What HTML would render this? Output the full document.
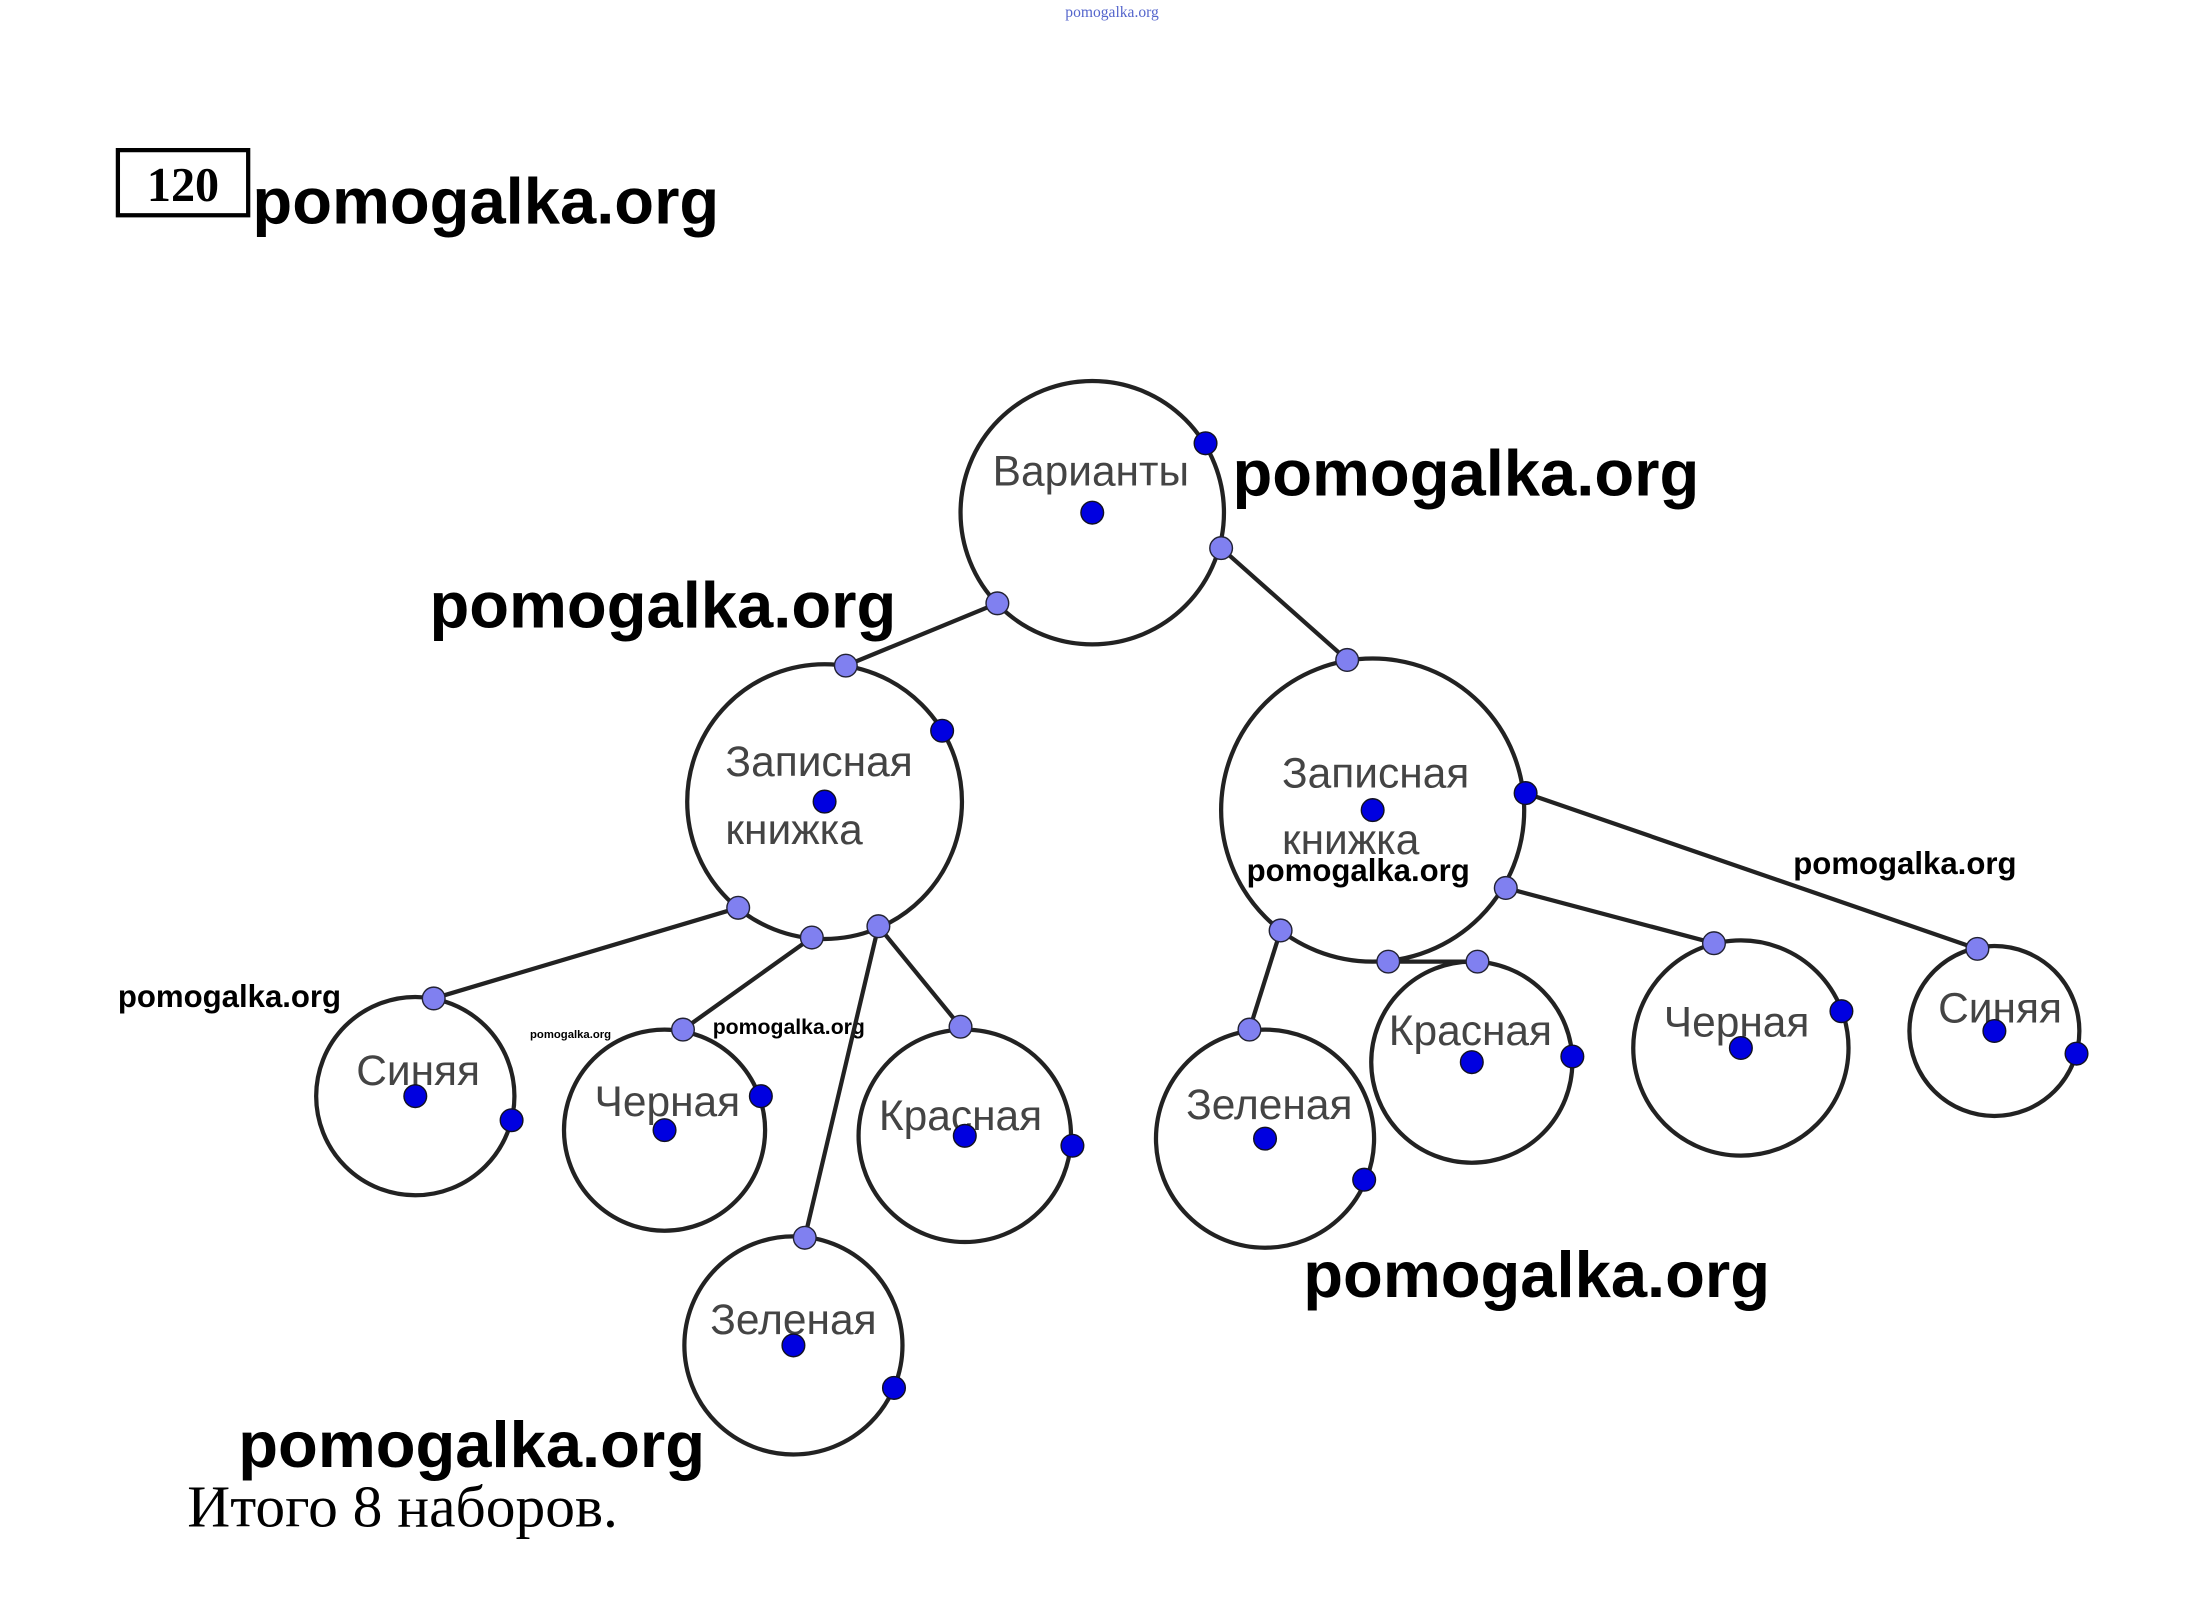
<!DOCTYPE html>
<html><head><meta charset="utf-8"><style>
html,body{margin:0;padding:0;background:#fff;}
svg{display:block;}
.n{font-family:"Liberation Sans",sans-serif;font-size:30px;fill:#444;}
.w{font-family:"Liberation Sans",sans-serif;font-weight:bold;fill:#000;}
</style></head><body>
<svg width="2193" height="1606" viewBox="0 0 1548 1134" xmlns="http://www.w3.org/2000/svg">
<rect width="1548" height="1134" fill="#fff"/>
<text x="785" y="12" font-family="Liberation Serif,serif" font-size="11" fill="#5566cc" text-anchor="middle">pomogalka.org</text>
<rect x="83" y="106" width="92" height="46" fill="none" stroke="#000" stroke-width="3"/>
<text x="129" y="142" font-family="Liberation Serif,serif" font-weight="bold" font-size="34" text-anchor="middle">120</text>
<text class="w" x="178" y="158" font-size="46">pomogalka.org</text>
<text class="w" x="870" y="350" font-size="46">pomogalka.org</text>
<text class="w" x="303" y="443" font-size="46">pomogalka.org</text>
<text class="w" x="920" y="916" font-size="46">pomogalka.org</text>
<text class="w" x="168" y="1036" font-size="46">pomogalka.org</text>
<text class="w" x="83" y="711" font-size="22">pomogalka.org</text>
<text class="w" x="880" y="622" font-size="22">pomogalka.org</text>
<text class="w" x="1266" y="617" font-size="22">pomogalka.org</text>
<text class="w" x="503" y="730" font-size="15">pomogalka.org</text>
<text class="w" x="374" y="733" font-size="8">pomogalka.org</text>
<g stroke="#222" stroke-width="3" fill="none">
<line x1="704" y1="426" x2="597" y2="470"/>
<line x1="862" y1="387" x2="951" y2="466"/>
<line x1="521" y1="641" x2="306" y2="705"/>
<line x1="573" y1="662" x2="482" y2="727"/>
<line x1="620" y1="654" x2="678" y2="725"/>
<line x1="620" y1="654" x2="568" y2="874"/>
<line x1="904" y1="657" x2="882" y2="727"/>
<line x1="980" y1="679" x2="1043" y2="679"/>
<line x1="1063" y1="627" x2="1210" y2="666"/>
<line x1="1077" y1="560" x2="1396" y2="670"/>
<circle cx="771" cy="362" r="93"/>
<circle cx="582" cy="566" r="97"/>
<circle cx="969" cy="572" r="107"/>
<circle cx="293" cy="774" r="70"/>
<circle cx="469" cy="798" r="71"/>
<circle cx="681" cy="802" r="75"/>
<circle cx="560" cy="950" r="77"/>
<circle cx="893" cy="804" r="77"/>
<circle cx="1039" cy="750" r="71"/>
<circle cx="1229" cy="740" r="76"/>
<circle cx="1408" cy="728" r="60"/>
</g>
<g class="n">
<text x="770" y="343" text-anchor="middle">Варианты</text>
<text x="512" y="548">Записная</text>
<text x="512" y="596">книжка</text>
<text x="905" y="556">Записная</text>
<text x="905" y="603">книжка</text>
<text x="295" y="766" text-anchor="middle">Синяя</text>
<text x="471" y="788" text-anchor="middle">Черная</text>
<text x="678" y="798" text-anchor="middle">Красная</text>
<text x="560" y="942" text-anchor="middle">Зеленая</text>
<text x="896" y="790" text-anchor="middle">Зеленая</text>
<text x="1038" y="738" text-anchor="middle">Красная</text>
<text x="1226" y="732" text-anchor="middle">Черная</text>
<text x="1412" y="722" text-anchor="middle">Синяя</text>
</g>
<g fill="#8080f0" stroke="#223" stroke-width="1">
<circle cx="704" cy="426" r="8"/><circle cx="597" cy="470" r="8"/>
<circle cx="862" cy="387" r="8"/><circle cx="951" cy="466" r="8"/>
<circle cx="521" cy="641" r="8"/><circle cx="306" cy="705" r="8"/>
<circle cx="573" cy="662" r="8"/><circle cx="482" cy="727" r="8"/>
<circle cx="620" cy="654" r="8"/><circle cx="678" cy="725" r="8"/>
<circle cx="568" cy="874" r="8"/>
<circle cx="904" cy="657" r="8"/><circle cx="882" cy="727" r="8"/>
<circle cx="980" cy="679" r="8"/><circle cx="1043" cy="679" r="8"/>
<circle cx="1063" cy="627" r="8"/><circle cx="1210" cy="666" r="8"/>
<circle cx="1396" cy="670" r="8"/>
</g>
<g fill="#0000e0" stroke="#112" stroke-width="1">
<circle cx="771" cy="362" r="8"/><circle cx="582" cy="566" r="8"/><circle cx="969" cy="572" r="8"/>
<circle cx="293" cy="774" r="8"/><circle cx="469" cy="798" r="8"/><circle cx="681" cy="802" r="8"/>
<circle cx="560" cy="950" r="8"/><circle cx="893" cy="804" r="8"/><circle cx="1039" cy="750" r="8"/>
<circle cx="1229" cy="740" r="8"/><circle cx="1408" cy="728" r="8"/>
<circle cx="851" cy="313" r="8"/><circle cx="665" cy="516" r="8"/><circle cx="361" cy="791" r="8"/>
<circle cx="537" cy="774" r="8"/><circle cx="757" cy="809" r="8"/><circle cx="631" cy="980" r="8"/>
<circle cx="963" cy="833" r="8"/><circle cx="1110" cy="746" r="8"/><circle cx="1300" cy="714" r="8"/>
<circle cx="1466" cy="744" r="8"/><circle cx="1077" cy="560" r="8"/>
</g>
<text x="132" y="1078" font-family="Liberation Serif,serif" font-size="42" fill="#000">Итого 8 наборов.</text>
</svg>
</body></html>
